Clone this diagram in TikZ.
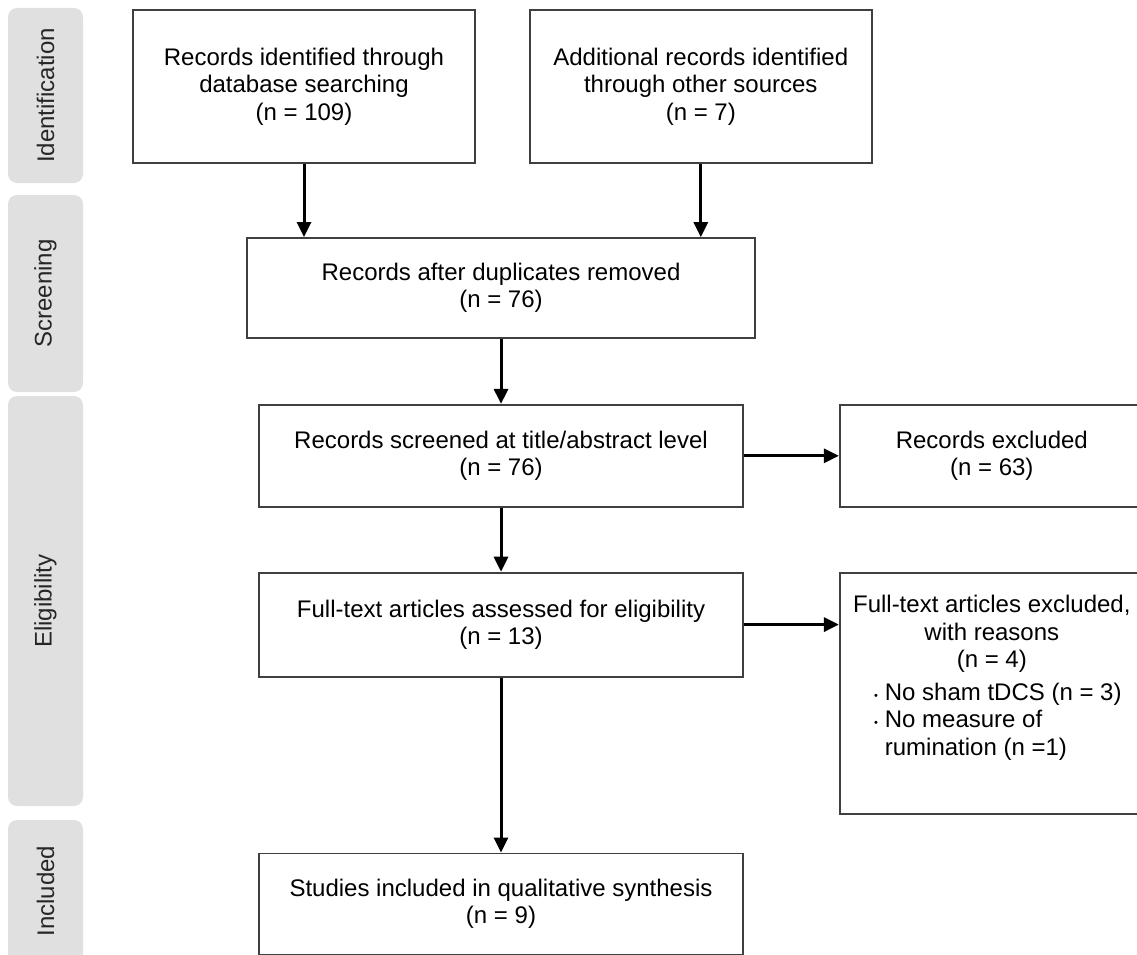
\documentclass[tikz,border=0pt]{standalone}
\usepackage{fontspec}
\setmainfont{Liberation Sans}
\usetikzlibrary{positioning, arrows.meta}
\definecolor{phasegray}{HTML}{E0E0E0}
\definecolor{boxline}{HTML}{404040}

\begin{document}
\begin{tikzpicture}[x=1pt, y=-1pt, font=\fontsize{24}{27.5}\selectfont]
        \tikzstyle{box} = [rectangle, draw=boxline, line width=1.8pt, fill=white, align=center, inner sep=0pt]
        \tikzstyle{phase} = [rectangle, rounded corners=9pt, fill=phasegray, text=black!85, rotate=90, minimum height=75pt]
        \tikzstyle{arrow} = [line width=3pt, -{Triangle[length=15pt, width=14pt]}]

        \clip (0,0) rectangle (1137,955);

        % phase labels on the left
        \node (ident ph) [phase, minimum width=175pt] at (45.5, 95.5) {Identification};
        \node (screen ph) [phase, minimum width=197pt] at (45.5, 293.5) {Screening};
        \node (elig ph) [phase, minimum width=410pt] at (45.5, 601) {Eligibility};
        \node (incl ph) [phase, minimum width=142pt] at (45.5, 891) {Included};

        % flow boxes
        \node (ident) [box, minimum width=342pt, minimum height=153pt] at (304, 86.5) {Records identified through\\ database searching\\ (n = 109)};
        \node (other) [box, minimum width=342pt, minimum height=153pt, right=53pt of ident] {Additional records identified\\ through other sources\\ (n = 7)};
        \node (dedup) [box, minimum width=508pt, minimum height=100pt] at (501, 288) {Records after duplicates removed\\ (n = 76)};
        \node (screen) [box, minimum width=484pt, minimum height=102pt, below=65pt of dedup] {Records screened at title/abstract level\\ (n = 76)};
        \node (excl) [box, minimum width=304pt, minimum height=102pt, right=95pt of screen] {Records excluded\\ (n = 63)};
        \node (full) [box, minimum width=484pt, minimum height=104pt, below=64pt of screen] {Full-text articles assessed for eligibility\\ (n = 13)};
        \node (fullexcl) [box, right=95pt of full.north east, anchor=north west] {\parbox[c][241pt][t]{304pt}{\centering\vspace*{23pt}Full-text articles excluded,\\ with reasons\\ (n = 4)\par\vspace{7pt}\hspace*{12pt}\begin{tabular}{@{}l@{\hspace{7pt}}l@{}}
                \raisebox{1pt}{\fontsize{11}{11}\selectfont\textbullet} & No sham tDCS (n = 3)\\
                \raisebox{1pt}{\fontsize{11}{11}\selectfont\textbullet} & No measure of\\
                & rumination (n =1)
            \end{tabular}\par}};
        \node (incl) [box, minimum width=484pt, minimum height=101pt, below=175pt of full] {Studies included in qualitative synthesis\\ (n = 9)};

        \draw [arrow] (ident.south) -- (ident.south |- dedup.north);
        \draw [arrow] (other.south) -- (other.south |- dedup.north);
        \draw [arrow] (dedup) -- (screen);
        \draw [arrow] (screen) -- (excl);
        \draw [arrow] (screen) -- (full);
        \draw [arrow] (full) -- (full -| fullexcl.west);
        \draw [arrow] (full) -- (incl);
    \end{tikzpicture}
\end{document}
